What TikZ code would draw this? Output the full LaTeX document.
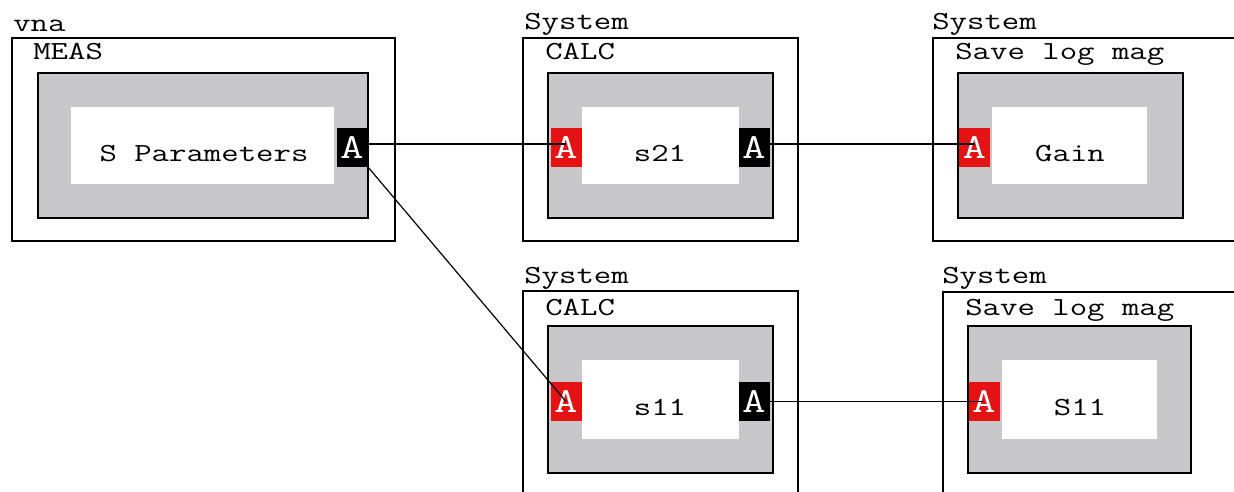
\documentclass[tikz,border=0pt]{standalone}
\usepackage{fontspec}
\setmonofont[FakeStretch=1.3]{Latin Modern Mono}
\definecolor{boxgray}{RGB}{200,200,203}
\definecolor{portred}{RGB}{228,18,18}
\newcommand{\lblfont}{\ttfamily\fontsize{18.5}{20}\selectfont}
\newcommand{\portfont}{\ttfamily\fontsize{25}{26}\selectfont}

\begin{document}
\begin{tikzpicture}[x=0.025cm,y=-0.025cm,
	outerbox/.style={line width=1.4pt},
	block/.style={fill=boxgray,draw=black,line width=1.2pt},
	lbl/.style={anchor=base west,inner sep=0pt,font=\lblfont},
	boxtext/.style={anchor=base,inner sep=0pt,font=\lblfont},
	port/.style={minimum width=0.775cm,minimum height=0.95cm,inner sep=0pt,text=white,font=\portfont},
	inport/.style={port,fill=portred},
	outport/.style={port,fill=black},
	wire/.style={line width=0.85pt}]
	\useasboundingbox (0,0) rectangle (1234,492);
	\clip (0,0) rectangle (1234,492);
	\fill[white] (0,0) rectangle (1234,492);
	% vna / MEAS
	\draw[outerbox] (12,38) rectangle (395,241);
	\filldraw[block] (38,73) rectangle (368,218);
	\fill[white] (71,107) rectangle (334,184);
	\node[lbl] (vna) at (13,32) {vna};
	\node[lbl] (meas) at (33,60) {MEAS};
	\node[boxtext] (sparams) at (204,161) {S Parameters};
	\node[outport] (measout) at (352,147.5) {A};
	% System / CALC s21
	\draw[outerbox] (523,38) rectangle (798,241);
	\filldraw[block] (548,73) rectangle (773,218);
	\fill[white] (582,107) rectangle (739,184);
	\node[lbl] (sysa) at (524,30) {System};
	\node[lbl] (calca) at (545,60) {CALC};
	\node[boxtext] (s21) at (660,161) {s21};
	\node[inport] (s21in) at (566,147.5) {A};
	\node[outport] (s21out) at (754,147.5) {A};
	% System / Save log mag Gain
	\draw[outerbox] (933,38) rectangle (1250,241);
	\filldraw[block] (958,73) rectangle (1183,218);
	\fill[white] (992,107) rectangle (1147,184);
	\node[lbl] (sysb) at (932,30) {System};
	\node[lbl] (saveb) at (955,60) {Save log mag};
	\node[boxtext] (gain) at (1070,161) {Gain};
	\node[inport] (gainin) at (974.5,147.5) {A};
	% System / CALC s11
	\draw[outerbox] (523,291) rectangle (798,510);
	\filldraw[block] (548,326) rectangle (773,473);
	\fill[white] (582,360) rectangle (739,439);
	\node[lbl] (sysc) at (524,283) {System};
	\node[lbl] (calcc) at (545,315) {CALC};
	\node[boxtext] (s11) at (660,415) {s11};
	\node[inport] (s11in) at (566,401.5) {A};
	\node[outport] (s11out) at (754,401.5) {A};
	% System / Save log mag S11
	\draw[outerbox] (943,292) rectangle (1250,510);
	\filldraw[block] (968,326) rectangle (1191,473);
	\fill[white] (1002,360) rectangle (1157,439);
	\node[lbl] (sysd) at (942,283) {System};
	\node[lbl] (saved) at (965,315) {Save log mag};
	\node[boxtext] (bigs11) at (1080,415) {S11};
	\node[inport] (bigs11in) at (984,401.5) {A};
	% wires
	\draw[wire] ([yshift=2.5pt]measout.east) -- ([yshift=2.5pt]s21in.center);
	\draw[wire] ([yshift=2.5pt]s21out.east) -- ([yshift=2.5pt]gainin.center);
	\draw[wire] (measout.south east) -- (s11in.center);
	\draw[wire] (s11out.east) -- (bigs11in.center);
\end{tikzpicture}
\end{document}
